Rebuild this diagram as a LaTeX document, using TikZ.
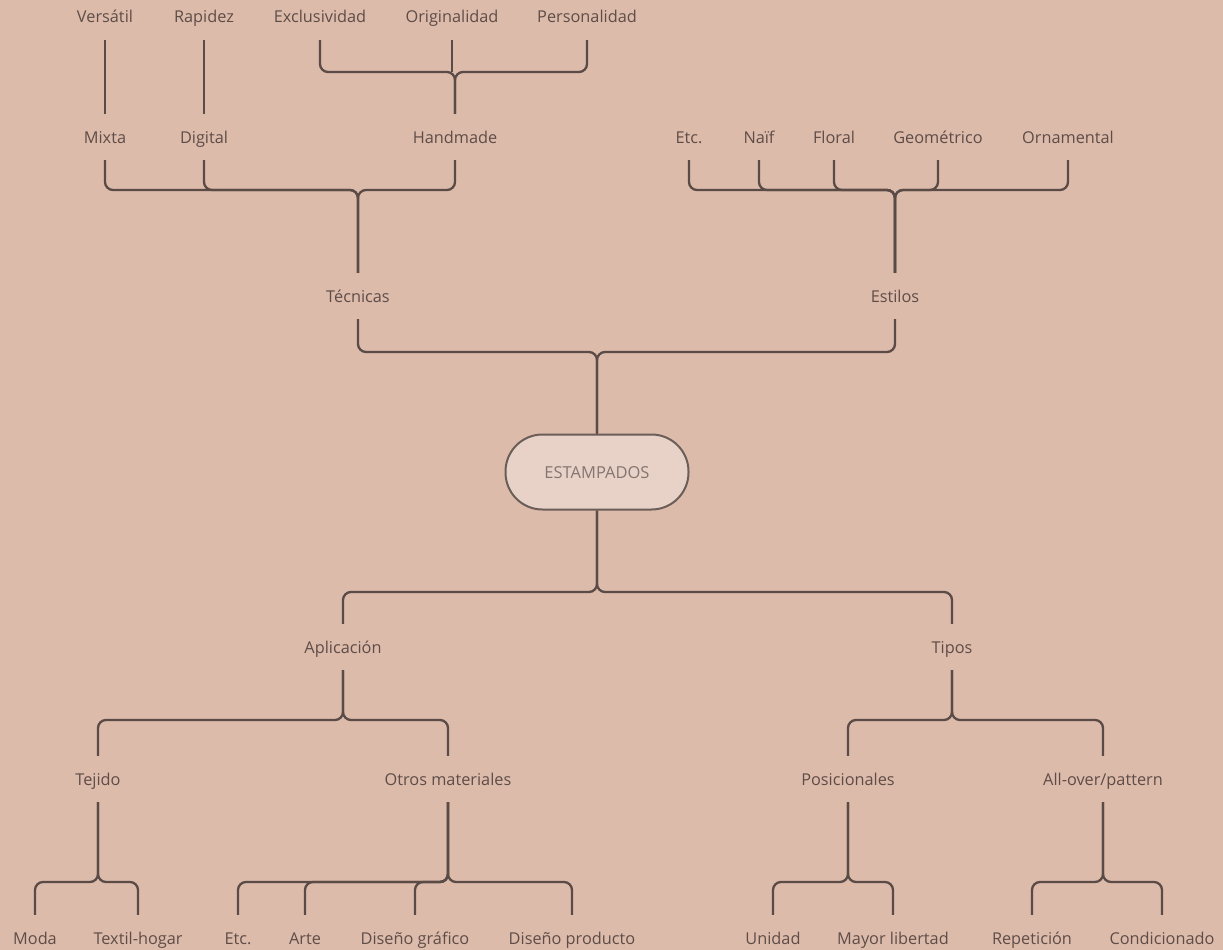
\documentclass[tikz,border=0pt]{standalone}
\usepackage{fontspec}
\setmainfont{Open Sans}
\definecolor{bg}{HTML}{DDBBAB}
\definecolor{ln}{HTML}{5B4B46}
\definecolor{txt}{HTML}{5E4D47}
\definecolor{rootfill}{HTML}{E8D2C7}
\definecolor{rootline}{HTML}{6B5D58}
\definecolor{roottxt}{HTML}{857570}
\begin{document}
\begin{tikzpicture}[x=1pt,y=-1pt,
  lbl/.style={minimum height=46pt, inner sep=0pt, text height=15pt, text depth=3pt, text=txt, font=\fontsize{16.3}{18}\selectfont},
  conn/.style={draw=ln, line width=2.3pt, rounded corners=8pt},
  rootnode/.style={draw=rootline, fill=rootfill, line width=2pt, rounded corners=37pt,
    minimum width=183pt, minimum height=75pt, text height=15pt, text depth=3pt, text=roottxt, font=\fontsize{16.5}{18}\selectfont}]
\fill[bg] (0,0) rectangle (1223,950);
\useasboundingbox (0,0) rectangle (1223,950);
% top row
\node[lbl] (ver) at (105,17) {Versátil};
\node[lbl] (rap) at (204,17) {Rapidez};
\node[lbl] (exc) at (320,17) {Exclusividad};
\node[lbl] (ori) at (452,17) {Originalidad};
\node[lbl] (per) at (587,17) {Personalidad};
% second row
\node[lbl] (mix) at (105,137) {Mixta};
\node[lbl] (dig) at (204,137) {Digital};
\node[lbl] (han) at (455,137) {Handmade};
\node[lbl] (etca) at (689,137) {Etc.};
\node[lbl] (nai) at (759,137) {Naïf};
\node[lbl] (flo) at (834,137) {Floral};
\node[lbl] (geo) at (938,137) {Geométrico};
\node[lbl] (orn) at (1068,137) {Ornamental};
% third row
\node[lbl] (tec) at (358,296) {Técnicas};
\node[lbl] (est) at (895,296) {Estilos};
% root
\node[rootnode] (root) at (597,472) {ESTAMPADOS};
% lower
\node[lbl] (apl) at (343,647) {Aplicación};
\node[lbl] (tip) at (952,647) {Tipos};
\node[lbl] (tej) at (98,779) {Tejido};
\node[lbl] (otr) at (448,779) {Otros materiales};
\node[lbl] (pos) at (848,779) {Posicionales};
\node[lbl] (all) at (1103,779) {All-over/pattern};
\node[lbl] (mod) at (35,938) {Moda};
\node[lbl] (tex) at (138,938) {Textil-hogar};
\node[lbl] (etcb) at (238,938) {Etc.};
\node[lbl] (art) at (305,938) {Arte};
\node[lbl] (dgr) at (415,938) {Diseño gráfico};
\node[lbl] (dpr) at (572,938) {Diseño producto};
\node[lbl] (uni) at (773,938) {Unidad};
\node[lbl] (may) at (893,938) {Mayor libertad};
\node[lbl] (rep) at (1032,938) {Repetición};
\node[lbl] (con) at (1162,938) {Condicionado};
% junctions
\coordinate (jh) at (455,72);
\coordinate (jt) at (358,190);
\coordinate (je) at (895,190);
\coordinate (jr) at (597,352);
\coordinate (jb) at (597,592);
\coordinate (ja) at (343,720);
\coordinate (jti) at (952,720);
\coordinate (jtej) at (98,882);
\coordinate (jotr) at (448,882);
\coordinate (jpos) at (848,882);
\coordinate (jall) at (1103,882);
% connectors
\draw[conn] (mix.north) -- (ver.south);
\draw[conn] (dig.north) -- (rap.south);
\draw[conn] (ori.south) -- (jh -| ori);
\foreach \c in {exc,per} \draw[conn] (han.north) -- (jh) -- (jh -| \c) -- (\c.south);
\foreach \c in {mix,dig,han} \draw[conn] (tec.north) -- (jt) -- (jt -| \c) -- (\c.south);
\foreach \c in {etca,nai,flo,geo,orn} \draw[conn] (est.north) -- (je) -- (je -| \c) -- (\c.south);
\foreach \c in {tec,est} \draw[conn] (root.north) -- (jr) -- (jr -| \c) -- (\c.south);
\foreach \c in {apl,tip} \draw[conn] (root.south) -- (jb) -- (jb -| \c) -- (\c.north);
\foreach \c in {tej,otr} \draw[conn] (apl.south) -- (ja) -- (ja -| \c) -- (\c.north);
\foreach \c in {pos,all} \draw[conn] (tip.south) -- (jti) -- (jti -| \c) -- (\c.north);
\foreach \c in {mod,tex} \draw[conn] (tej.south) -- (jtej) -- (jtej -| \c) -- (\c.north);
\foreach \c in {etcb,art,dgr,dpr} \draw[conn] (otr.south) -- (jotr) -- (jotr -| \c) -- (\c.north);
\foreach \c in {uni,may} \draw[conn] (pos.south) -- (jpos) -- (jpos -| \c) -- (\c.north);
\foreach \c in {rep,con} \draw[conn] (all.south) -- (jall) -- (jall -| \c) -- (\c.north);
\end{tikzpicture}
\end{document}
